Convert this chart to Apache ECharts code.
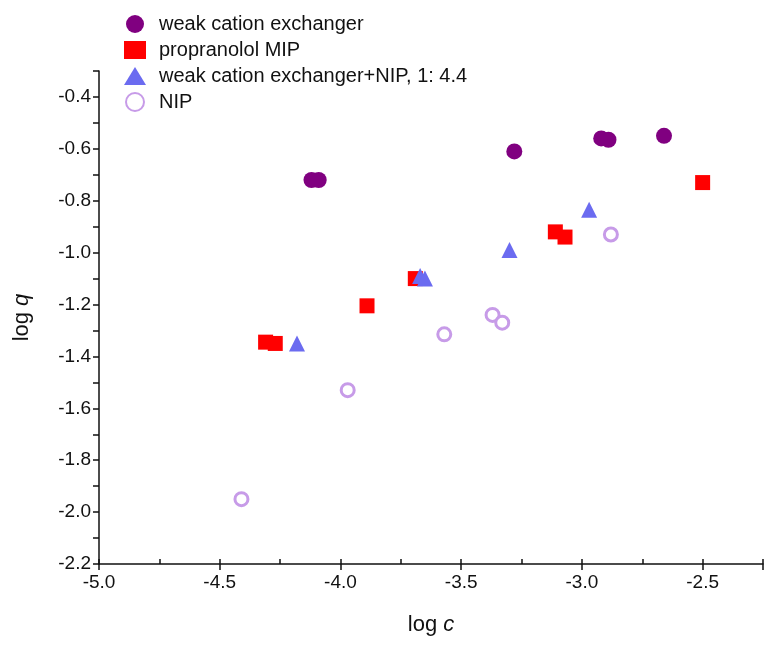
<!DOCTYPE html>
<html><head><meta charset="utf-8">
<script src="https://cdn.jsdelivr.net/npm/echarts@6/dist/echarts.min.js"></script>
<style>html,body{margin:0;padding:0;background:#fff}#c{width:771px;height:651px}</style>
</head><body><div id="c"></div>
<script>
var seriesNames = ['weak cation exchanger','propranolol MIP','weak cation exchanger+NIP, 1: 4.4','NIP'];
var weakCation = [[-4.12,-0.72],[-4.09,-0.72],[-3.28,-0.61],[-2.92,-0.56],[-2.89,-0.565],[-2.66,-0.55]];
var mip = [[-4.31,-1.345],[-4.27,-1.35],[-3.89,-1.205],[-3.69,-1.10],[-3.11,-0.92],[-3.07,-0.94],[-2.50,-0.73]];
var mixNip = [[-4.18,-1.35],[-3.67,-1.09],[-3.65,-1.10],[-3.30,-0.99],[-2.97,-0.835]];
var nip = [[-4.41,-1.95],[-3.97,-1.53],[-3.57,-1.315],[-3.37,-1.24],[-3.33,-1.27],[-2.88,-0.93]];

var font = 'Liberation Sans, Arial, sans-serif';
var chart = echarts.init(document.getElementById('c'));
chart.setOption({
  animation:false,
  grid:{left:99,right:8,top:71,bottom:87},
  legend:{left:119,top:9,orient:'vertical',itemGap:6,itemWidth:22,itemHeight:18,
    textStyle:{fontFamily:font,fontSize:20,color:'#111',padding:[0,0,0,8]},
    data:seriesNames},
  xAxis:[{type:'value',min:-5,max:-2.25,interval:0.5,
    axisLine:{lineStyle:{color:'#111',width:1.5}},
    axisTick:{inside:false,length:6,lineStyle:{color:'#111',width:1.5}},
    axisLabel:{fontFamily:font,fontSize:19,color:'#111',margin:9,
      formatter:function(v){var k=Math.round(v*100);return (k%50===0)?v.toFixed(1):'';}},
    splitLine:{show:false},
    name:'{a|log }{b|c}',nameLocation:'middle',nameGap:50,
    nameTextStyle:{rich:{a:{fontFamily:font,fontSize:22,color:'#111'},b:{fontFamily:font,fontSize:22,fontStyle:'italic',color:'#111'}}}
  },{type:'value',min:-5,max:-2.25,interval:0.25,position:'bottom',
    axisLine:{show:false},axisLabel:{show:false},splitLine:{show:false},
    axisTick:{inside:true,length:5,lineStyle:{color:'#111',width:1.5}}}],
  yAxis:{type:'value',min:-2.2,max:-0.3,interval:0.1,
    axisLine:{show:true,lineStyle:{color:'#111',width:1.5}},
    axisTick:{inside:false,length:6,lineStyle:{color:'#111',width:1.5}},
    axisLabel:{fontFamily:font,fontSize:19,color:'#111',margin:8,
      formatter:function(v){var k=Math.round(v*10);return (k%2===0)?v.toFixed(1):'';}},
    splitLine:{show:false},
    name:'{a|log }{b|q}',nameLocation:'middle',nameGap:66,
    nameTextStyle:{rich:{a:{fontFamily:font,fontSize:22,color:'#111'},b:{fontFamily:font,fontSize:22,fontStyle:'italic',color:'#111'}}}
  },
  series:[
    {name:seriesNames[0],type:'scatter',data:weakCation,symbol:'circle',symbolSize:16,itemStyle:{color:'#800080',opacity:1}},
    {name:seriesNames[1],type:'scatter',data:mip,symbol:'rect',symbolSize:15,itemStyle:{color:'#ff0000',opacity:1}},
    {name:seriesNames[2],type:'scatter',data:mixNip,symbol:'triangle',symbolSize:16,itemStyle:{color:'#6b6bf0',opacity:1}},
    {name:seriesNames[3],type:'scatter',data:nip,symbol:'circle',symbolSize:13,itemStyle:{color:'#fff',borderColor:'#c79be8',borderWidth:3,opacity:1}}
  ]
});
</script></body></html>
